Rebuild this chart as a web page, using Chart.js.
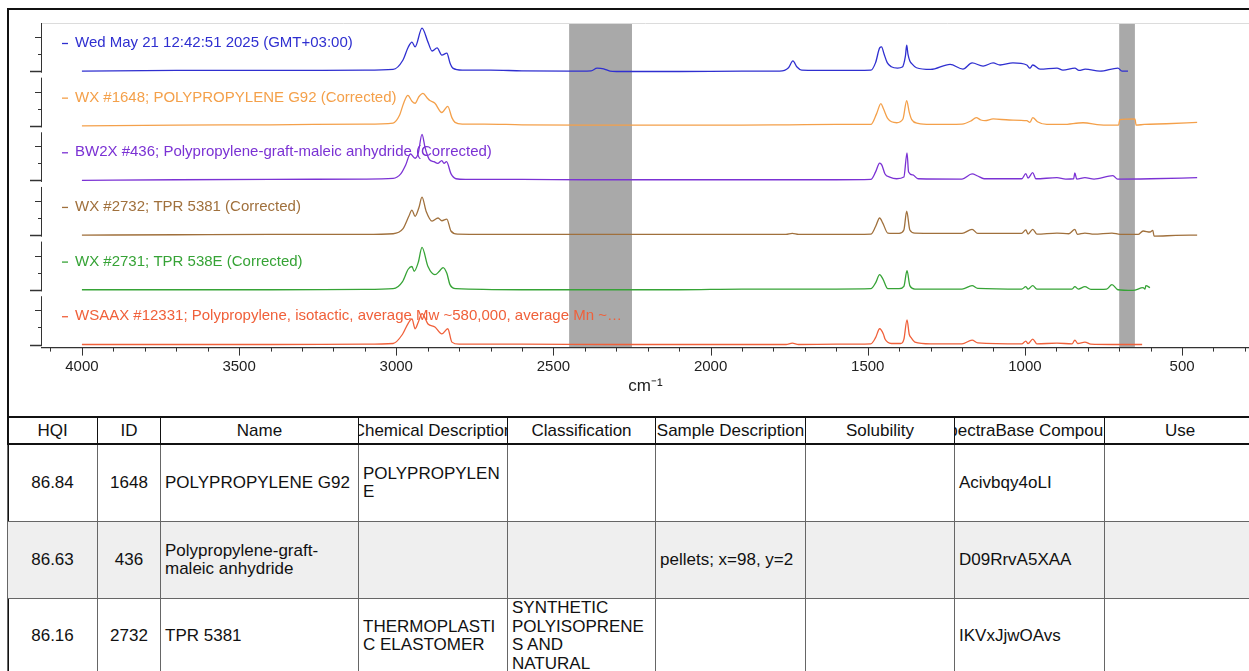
<!DOCTYPE html>
<html>
<head>
<meta charset="utf-8">
<script src="https://cdn.jsdelivr.net/npm/chart.js@4.4.1/dist/chart.umd.min.js"></script>
<style>
  html, body { margin: 0; padding: 0; background: #fff; overflow: hidden; width: 1249px; height: 671px; }
  body { font-family: 'Liberation Sans', Arial, sans-serif; color: #111; position: relative; }
  #frame { position: absolute; left: 7px; top: 8px; width: 1300px; height: 700px; border-left: 2px solid #111; border-top: 2px solid #111; }
  #chartWrap { position: absolute; left: 10px; top: 10px; width: 1239px; height: 406px; }
  table { position: absolute; left: 7px; top: 416px; border-collapse: collapse; table-layout: fixed; width: 1248px; font-size: 17px; }
  th { height: 25px; padding: 0; font-weight: normal; font-size: 17px; border: 1.5px solid #111; border-top: 2px solid #111; border-bottom: 2px solid #111; }
  th .hd { display: flex; justify-content: center; overflow: hidden; white-space: nowrap; }
  td { height: 76px; padding: 0 4px; vertical-align: middle; line-height: 18.5px; border: 1px solid #666; white-space: nowrap; overflow: hidden; }
  td.num { text-align: center; }
  tr.alt td { background: #efefef; }
  tr.last td { height: 72px; }
</style>
</head>
<body>
<div id="frame"></div>
<div id="chartWrap"><canvas id="spectra"></canvas></div>
<table>
  <colgroup>
    <col style="width:90px"><col style="width:63px"><col style="width:198px"><col style="width:149px"><col style="width:148px">
    <col style="width:150px"><col style="width:149px"><col style="width:150px"><col style="width:151px">
  </colgroup>
  <tr>
    <th><div class="hd">HQI</div></th><th><div class="hd">ID</div></th><th><div class="hd">Name</div></th>
    <th><div class="hd">Chemical Description</div></th><th><div class="hd">Classification</div></th>
    <th><div class="hd">Sample Description</div></th><th><div class="hd">Solubility</div></th>
    <th><div class="hd">SpectraBase Compound</div></th><th><div class="hd">Use</div></th>
  </tr>
  <tr>
    <td class="num">86.84</td><td class="num">1648</td><td>POLYPROPYLENE G92</td><td>POLYPROPYLEN<br>E</td>
    <td></td><td></td><td></td><td>Acivbqy4oLI</td><td></td>
  </tr>
  <tr class="alt">
    <td class="num">86.63</td><td class="num">436</td><td>Polypropylene-graft-<br>maleic anhydride</td><td></td>
    <td></td><td>pellets; x=98, y=2</td><td></td><td>D09RrvA5XAA</td><td></td>
  </tr>
  <tr class="last">
    <td class="num">86.16</td><td class="num">2732</td><td>TPR 5381</td><td>THERMOPLASTI<br>C ELASTOMER</td>
    <td>SYNTHETIC<br>POLYISOPRENE<br>S AND<br>NATURAL</td><td></td><td></td><td>IKVxJjwOAvs</td><td></td>
  </tr>
</table>
<script>
/* series names, top to bottom */
const seriesLabels = [
  'Wed May 21 12:42:51 2025 (GMT+03:00)',
  'WX #1648; POLYPROPYLENE G92 (Corrected)',
  'BW2X #436; Polypropylene-graft-maleic anhydride (Corrected)',
  'WX #2732; TPR 5381 (Corrected)',
  'WX #2731; TPR 538E (Corrected)',
  'WSAAX #12331; Polypropylene, isotactic, average Mw ~580,000, average Mn ~\u2026'
];

/* spectra: [wavenumber, relative absorbance] */
const sampleSpectrum = [[4000,0],[3700,0.02],[3400,0.02],[3100,0.03],[3010,0.05],[2979,0.32],[2962,0.7],[2950,0.85],[2940,0.71],[2918,1.26],[2899,0.85],[2886,0.59],[2870,0.68],[2855,0.47],[2839,0.53],[2829,0.24],[2820,0.09],[2790,0.03],[2700,0.03],[2600,0.01],[2450,0],[2380,0.01],[2361,0.09],[2340,0.07],[2320,0],[2300,-0.01],[2100,-0.01],[1900,0],[1780,0],[1752,0.1],[1738,0.3],[1725,0.12],[1710,0.03],[1600,0.02],[1490,0.03],[1475,0.25],[1462,0.68],[1456,0.71],[1448,0.5],[1438,0.25],[1425,0.13],[1405,0.09],[1390,0.12],[1380,0.45],[1376,0.76],[1372,0.5],[1366,0.3],[1360,0.22],[1345,0.1],[1300,0.05],[1238,0.2],[1197,0.06],[1168,0.24],[1133,0.15],[1101,0.24],[1079,0.18],[1038,0.24],[994,0.18],[984,0.09],[975,0.18],[952,0.06],[898,0.09],[879,0.03],[841,0.09],[828,0.02],[808,0.06],[761,0],[704,0.09],[691,0],[672,0]];
const g92Spectrum = [[4000,0],[3700,0.02],[3400,0.03],[3100,0.05],[3010,0.08],[2990,0.3],[2975,0.7],[2963,0.89],[2950,0.72],[2940,0.66],[2928,0.85],[2915,0.95],[2900,0.8],[2893,0.74],[2877,0.66],[2855,0.39],[2836,0.57],[2823,0.24],[2813,0.1],[2790,0.05],[2720,0.05],[2600,0.03],[2400,0.02],[2200,0.02],[1900,0.02],[1750,0.03],[1600,0.04],[1490,0.04],[1472,0.35],[1458,0.65],[1450,0.5],[1436,0.21],[1408,0.09],[1388,0.2],[1376,0.74],[1368,0.4],[1360,0.18],[1340,0.07],[1300,0.04],[1200,0.05],[1170,0.15],[1155,0.24],[1140,0.17],[1127,0.15],[1101,0.2],[1050,0.17],[994,0.15],[984,0.1],[975,0.24],[960,0.12],[930,0.04],[879,0.04],[815,0.09],[760,0.03],[702,0.02],[698,0.18],[650,0.2],[646,0.02],[620,0.04],[550,0.06],[452,0.1]];
const maleicSpectrum = [[4000,0],[3700,0.02],[3400,0.03],[3100,0.04],[3010,0.06],[2985,0.2],[2970,0.45],[2955,0.78],[2940,0.65],[2930,0.8],[2918,1.35],[2908,0.95],[2895,0.62],[2880,0.55],[2868,0.5],[2855,0.58],[2848,0.5],[2840,0.55],[2826,0.2],[2810,0.05],[2780,0.03],[2600,0.03],[2400,0.02],[2200,0.02],[2000,0.02],[1800,0.02],[1600,0.02],[1490,0.03],[1475,0.25],[1462,0.51],[1455,0.45],[1445,0.19],[1430,0.1],[1408,0.05],[1385,0.1],[1375,0.81],[1370,0.25],[1356,0.16],[1340,0.05],[1200,0.04],[1168,0.19],[1150,0.13],[1130,0.05],[1010,0.05],[997,0.2],[990,0.07],[975,0.23],[965,0.05],[898,0.08],[870,0.04],[845,0.05],[841,0.22],[835,0.04],[809,0.08],[780,0.04],[720,0.14],[705,0.04],[600,0.05],[452,0.08]];
const tpr5381Spectrum = [[4000,0],[3700,0.01],[3400,0.02],[3100,0.02],[3010,0.04],[2979,0.18],[2960,0.55],[2950,0.73],[2940,0.55],[2928,0.8],[2918,1.11],[2905,0.7],[2886,0.41],[2867,0.5],[2855,0.42],[2839,0.47],[2826,0.12],[2805,0.03],[2600,0.02],[2300,0.02],[2000,0.02],[1760,0.02],[1740,0.05],[1720,0.02],[1600,0.02],[1490,0.03],[1475,0.25],[1462,0.5],[1452,0.35],[1436,0.06],[1400,0.05],[1385,0.15],[1376,0.7],[1366,0.15],[1350,0.06],[1200,0.05],[1168,0.17],[1150,0.05],[1010,0.05],[997,0.15],[990,0.03],[975,0.17],[962,0.03],[898,0.06],[860,0.04],[841,0.17],[833,0.02],[809,0.06],[780,0.03],[723,0.06],[697,0.02],[640,0.02],[624,0.12],[602,0.09],[593,0.14],[589,-0.03],[520,-0.01],[452,0]];
const tpr538eSpectrum = [[4000,0],[3700,0],[3400,0],[3100,0.01],[3010,0.03],[2980,0.24],[2962,0.6],[2950,0.68],[2943,0.54],[2930,0.8],[2918,1.24],[2899,0.68],[2877,0.44],[2862,0.55],[2851,0.65],[2839,0.48],[2829,0.15],[2810,0.03],[2600,0],[2300,0],[2100,0],[1900,0.02],[1700,0.02],[1600,0.02],[1490,0.03],[1475,0.2],[1462,0.44],[1452,0.32],[1436,0.03],[1400,0.03],[1385,0.1],[1375,0.56],[1366,0.12],[1350,0.02],[1200,0.02],[1168,0.12],[1150,0.04],[1010,0.02],[997,0.09],[990,0.02],[975,0.12],[962,0.02],[898,0.02],[850,0.02],[841,0.09],[830,0.02],[809,0.09],[790,0.01],[740,0.02],[723,0.15],[704,0],[656,-0.02],[624,0.06],[618,0.02],[615,0.12],[602,0.06]];
const isotacticSpectrum = [[4000,0],[3700,0],[3400,0],[3100,0.01],[3010,0.03],[2980,0.3],[2962,0.62],[2950,0.75],[2940,0.46],[2930,0.65],[2918,0.9],[2899,0.6],[2877,0.51],[2855,0.31],[2836,0.46],[2823,0.07],[2800,0.01],[2600,0.01],[2300,0],[2000,0],[1760,0],[1740,0.04],[1720,0],[1600,0.01],[1490,0.02],[1475,0.2],[1462,0.46],[1450,0.3],[1445,0.16],[1425,0.03],[1395,0.03],[1385,0.15],[1375,0.72],[1368,0.3],[1362,0.2],[1350,0.07],[1300,0.02],[1200,0.02],[1168,0.13],[1150,0.05],[1010,0.02],[997,0.1],[990,0.03],[975,0.16],[962,0.02],[898,0.04],[850,0.02],[841,0.13],[832,0.03],[809,0.07],[790,0.01],[723,0],[627,0]];

/* excluded regions (cm-1) and axis ticks */
const excludedRanges = [[2450, 2250], [700, 650]];
const majorTicks = [4000, 3500, 3000, 2500, 2000, 1500, 1000, 500];
const minorTicks = [4100, 3900, 3800, 3700, 3600, 3400, 3300, 3200, 3100, 2900, 2800, 2700, 2600, 2400, 2300, 2200, 2100, 1900, 1800, 1700, 1600, 1400, 1300, 1200, 1100, 900, 800, 700, 600, 400, 300];
const yTicks = [0, 0.5, 1];

const spectra = [sampleSpectrum, g92Spectrum, maleicSpectrum, tpr5381Spectrum, tpr538eSpectrum, isotacticSpectrum];
const colors = ['#2f2fd0', '#f4a04a', '#7b32d4', '#a0703c', '#36a336', '#f0603a'];

Chart.defaults.font.family = "'Liberation Sans', Arial, sans-serif";

const datasets = spectra.map((s, k) => ({
  label: seriesLabels[k],
  data: s.map((p) => ({ x: p[0], y: p[1] })),
  yAxisID: 'y' + k,
  borderColor: colors[k],
  borderWidth: 1.3,
  pointRadius: 0,
  cubicInterpolationMode: 'monotone',
  fill: false,
}));

const scales = {
  x: {
    type: 'linear',
    reverse: true,
    min: 287,
    max: 4127,
    grid: { display: false, drawTicks: false },
    border: { display: false },
    afterBuildTicks: (scale) => {
      scale.ticks = majorTicks.map((v) => ({ value: v }));
    },
    ticks: { autoSkip: false, maxRotation: 0, padding: 10, color: '#222', font: { size: 15 }, callback: (v) => String(v) },
    title: { display: true, text: 'cm\u207B\u00B9', color: '#222', font: { size: 17 }, padding: { top: -9, bottom: 4 } },
  },
};
for (let k = 0; k < 6; k++) {
  scales['y' + k] = {
    type: 'linear',
    position: 'left',
    stack: 'spectra',
    stackWeight: k === 5 ? 0.94 : 1,
    weight: 6 - k,
    min: k === 5 ? -0.09 : -0.19,
    max: 1.41,
    grid: { display: false, drawTicks: false },
    border: { display: false },
    ticks: { display: false },
  };
}

/* axis lines, ticks, excluded bands and trace names */
const decor = {
  id: 'decor',
  beforeDatasetsDraw(chart) {
    const { ctx, chartArea } = chart;
    const x = chart.scales.x;
    ctx.save();
    ctx.fillStyle = '#a9a9a9';
    excludedRanges.forEach(([a, b]) => {
      const x1 = x.getPixelForValue(a);
      const x2 = x.getPixelForValue(b);
      ctx.fillRect(x1, chartArea.top, x2 - x1, chartArea.bottom - chartArea.top);
    });
    ctx.strokeStyle = '#dcdcdc';
    ctx.lineWidth = 1;
    ctx.beginPath();
    ctx.moveTo(chartArea.left, chartArea.top + 0.5);
    ctx.lineTo(chartArea.right, chartArea.top + 0.5);
    ctx.stroke();

    ctx.strokeStyle = '#333';
    for (let k = 0; k < 6; k++) {
      const y = chart.scales['y' + k];
      const base = y.getPixelForValue(0);
      ctx.lineWidth = 1;
      ctx.beginPath();
      ctx.moveTo(chartArea.left - 0.5, y.top);
      ctx.lineTo(chartArea.left - 0.5, base + 1.5);
      ctx.stroke();
      yTicks.forEach((v) => {
        const py = Math.round(y.getPixelForValue(v)) + 0.5;
        const len = v === 0 ? 12 : v === 1 ? 7 : 4;
        ctx.lineWidth = v === 0 ? 1.5 : 1;
        ctx.beginPath();
        ctx.moveTo(chartArea.left - len, py);
        ctx.lineTo(chartArea.left, py);
        ctx.stroke();
      });
    }
    ctx.lineWidth = 1.2;
    ctx.beginPath();
    ctx.moveTo(chartArea.left - 1, chartArea.bottom);
    ctx.lineTo(chartArea.right, chartArea.bottom);
    ctx.stroke();
    ctx.lineWidth = 1;
    majorTicks.concat(minorTicks).forEach((v) => {
      const px = Math.round(x.getPixelForValue(v)) + 0.5;
      const len = majorTicks.includes(v) ? 8 : 4;
      ctx.beginPath();
      ctx.moveTo(px, chartArea.bottom);
      ctx.lineTo(px, chartArea.bottom + len);
      ctx.stroke();
    });
    ctx.restore();
  },
  afterDatasetsDraw(chart) {
    const { ctx, chartArea } = chart;
    ctx.save();
    ctx.font = "15px 'Liberation Sans', Arial, sans-serif";
    ctx.textBaseline = 'middle';
    for (let k = 0; k < 6; k++) {
      const y = chart.scales['y' + k];
      const cy = y.top + 20;
      ctx.strokeStyle = colors[k];
      ctx.lineWidth = 1.3;
      ctx.beginPath();
      ctx.moveTo(chartArea.left + 20, cy + 0.5);
      ctx.lineTo(chartArea.left + 26, cy + 0.5);
      ctx.stroke();
      ctx.fillStyle = colors[k];
      ctx.fillText(seriesLabels[k], chartArea.left + 33, cy);
    }
    ctx.restore();
  },
};

new Chart(document.getElementById('spectra'), {
  type: 'line',
  data: { datasets },
  options: {
    responsive: true,
    maintainAspectRatio: false,
    animation: false,
    layout: { padding: { left: 32, top: 13, right: 0, bottom: 15 } },
    plugins: { legend: { display: false }, tooltip: { enabled: false } },
    scales,
  },
  plugins: [decor],
});
</script>
</body>
</html>
